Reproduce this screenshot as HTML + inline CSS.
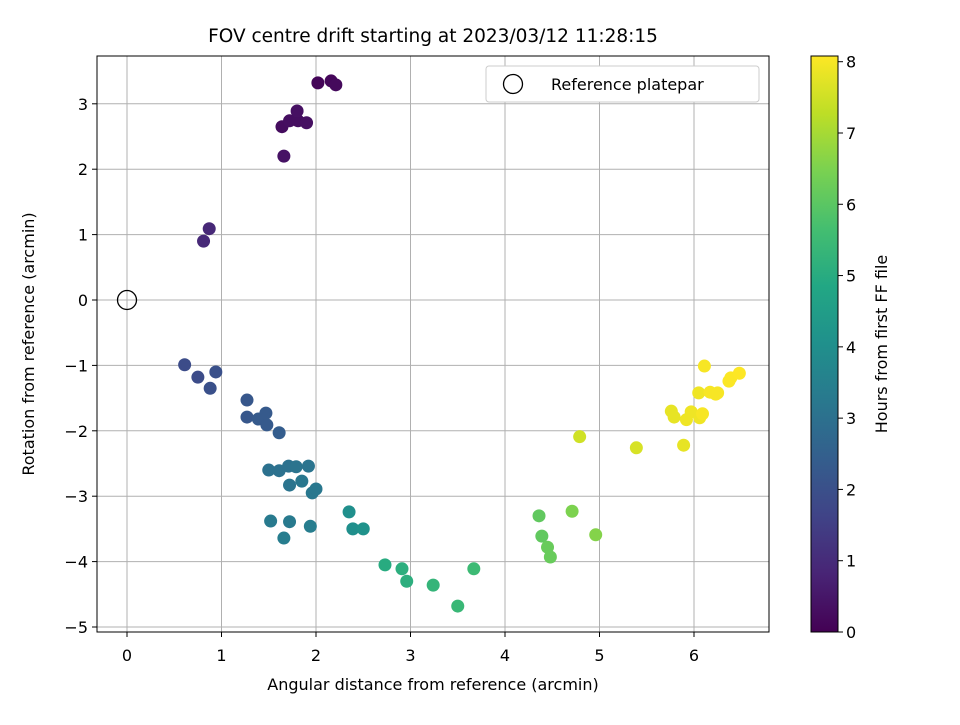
<!DOCTYPE html>
<html><head><meta charset="utf-8"><style>
body{margin:0;background:#fff;font-family:"Liberation Sans",sans-serif}
svg text{font-family:"DejaVu Sans","Liberation Sans",sans-serif;fill:#000}
</style></head><body>
<svg id="chart" width="960" height="720" xmlns="http://www.w3.org/2000/svg"></svg>
<script>
const xVals=[2.02,2.16,2.21,1.64,1.72,1.81,1.80,1.90,1.66,0.87,0.81,0.61,0.75,0.94,0.88,1.27,1.27,1.39,1.47,1.48,1.61,1.50,1.61,1.71,1.79,1.92,1.72,1.85,1.96,2.00,1.52,1.72,1.66,1.94,2.35,2.39,2.50,2.73,2.91,2.96,3.24,3.50,3.67,4.36,4.39,4.45,4.48,4.71,4.96,4.79,5.39,5.76,5.79,5.89,5.92,5.97,6.05,6.06,6.09,6.11,6.17,6.23,6.25,6.37,6.39,6.48];
const yVals=[3.32,3.35,3.29,2.65,2.74,2.74,2.89,2.71,2.20,1.09,0.90,-0.99,-1.18,-1.10,-1.35,-1.53,-1.79,-1.82,-1.73,-1.91,-2.03,-2.60,-2.61,-2.54,-2.55,-2.54,-2.83,-2.77,-2.95,-2.89,-3.38,-3.39,-3.64,-3.46,-3.24,-3.50,-3.50,-4.05,-4.11,-4.30,-4.36,-4.68,-4.11,-3.30,-3.61,-3.78,-3.93,-3.23,-3.59,-2.09,-2.26,-1.70,-1.79,-2.22,-1.83,-1.71,-1.42,-1.80,-1.74,-1.01,-1.41,-1.44,-1.42,-1.24,-1.19,-1.12];
const hours=[0.1,0.15,0.2,0.25,0.3,0.3,0.35,0.35,0.4,0.9,0.95,1.9,1.9,2.0,2.0,2.2,2.2,2.3,2.3,2.3,2.4,3.0,3.0,3.0,3.1,3.1,3.1,3.2,3.2,3.2,3.3,3.3,3.4,3.4,4.0,4.0,4.1,5.0,5.1,5.1,5.3,5.4,5.5,6.1,6.1,6.2,6.2,6.5,6.6,7.5,7.6,7.8,7.8,7.8,7.9,7.9,7.9,7.9,8.0,8.0,8.0,8.0,8.0,8.05,8.05,8.08];
const xTicks=[0,1,2,3,4,5,6];
const yTicks=[-5,-4,-3,-2,-1,0,1,2,3];
const cTicks=[0,1,2,3,4,5,6,7,8];
const NS="http://www.w3.org/2000/svg";
const svg=document.getElementById('chart');
const L=97,R=769,T=56,B=632;
const X=v=>127+v*94.5, Y=v=>300-v*65.4;
const CMIN=0,CMAX=8.08, CB=T, CBB=B, CX=811,CW=27;
const C=v=>CBB-(v-CMIN)/(CMAX-CMIN)*(CBB-CB);
const stops=[[68,1,84],[72,36,117],[64,67,135],[52,94,141],[41,120,142],[32,144,140],[34,167,132],[68,190,112],[121,209,81],[189,222,38],[253,231,37]];
function vir(t){t=Math.max(0,Math.min(1,t))*(stops.length-1);const i=Math.min(Math.floor(t),stops.length-2),f=t-i;const a=stops[i],b=stops[i+1];return `rgb(${a.map((c,k)=>Math.round(c+(b[k]-c)*f)).join(',')})`;}
function el(tag,attrs,name,inter,parent){const e=document.createElementNS(NS,tag);for(const k in attrs)e.setAttribute(k,attrs[k]);


(parent||svg).appendChild(e);return e;}
function txt(s,attrs,name){const t=el('text',attrs,name,false);t.textContent=s;return t;}
xTicks.forEach(v=>{el('line',{x1:X(v),x2:X(v),y1:T,y2:B,stroke:'#b0b0b0','stroke-width':1},'x-gridline',false);
el('line',{x1:X(v),x2:X(v),y1:B,y2:B+5,stroke:'#000'},'x-tick',false);
txt(String(v).replace('-','−'),{x:X(v),y:B+29,'font-size':16,'text-anchor':'middle'},'x-tick-label');});
yTicks.forEach(v=>{el('line',{x1:L,x2:R,y1:Y(v),y2:Y(v),stroke:'#b0b0b0','stroke-width':1},'y-gridline',false);
el('line',{x1:L-5,x2:L,y1:Y(v),y2:Y(v),stroke:'#000'},'y-tick',false);
txt(String(v).replace('-','−'),{x:L-9,y:Y(v)+6,'font-size':16,'text-anchor':'end'},'y-tick-label');});
xVals.forEach((x,i)=>{el('circle',{cx:X(x),cy:Y(yVals[i]),r:6.5,fill:vir(hours[i]/CMAX)},'data-point',true);});
el('circle',{cx:X(0),cy:Y(0),r:9.5,fill:'none',stroke:'#000','stroke-width':1.3},'reference-platepar-marker',true);
el('rect',{x:L,y:T,width:R-L,height:B-T,fill:'none',stroke:'#000','stroke-width':1},'plot-frame',false);
el('rect',{x:486,y:66,width:273,height:36,rx:3,fill:'#fff',stroke:'#ccc','stroke-width':1},'legend-box',false);
el('circle',{cx:513,cy:84,r:9.5,fill:'none',stroke:'#000','stroke-width':1.3},'legend-marker',false);
txt('Reference platepar',{x:551,y:90,'font-size':16},'legend-label');
txt('FOV centre drift starting at 2023/03/12 11:28:15',{x:433,y:42,'font-size':18.5,'text-anchor':'middle'},'chart-title');
txt('Angular distance from reference (arcmin)',{x:433,y:690,'font-size':16,'text-anchor':'middle'},'x-axis-title');
txt('Rotation from reference (arcmin)',{x:0,y:0,'font-size':16,'text-anchor':'middle',transform:'translate(34,344) rotate(-90)'},'y-axis-title');
const defs=el('defs',{},'defs',false);
const g=el('linearGradient',{id:'vg',x1:0,y1:1,x2:0,y2:0},'colorbar-gradient',false,defs);
stops.forEach((s,i)=>el('stop',{offset:i/(stops.length-1),'stop-color':`rgb(${s})`},'gradient-stop',false,g));
el('rect',{x:CX,y:CB,width:CW,height:CBB-CB,fill:'url(#vg)',stroke:'#000','stroke-width':1},'colorbar',false);
cTicks.forEach(v=>{el('line',{x1:CX+CW,x2:CX+CW+5,y1:C(v),y2:C(v),stroke:'#000'},'colorbar-tick',false);
txt(String(v),{x:CX+CW+8,y:C(v)+6,'font-size':16},'colorbar-tick-label');});
txt('Hours from first FF file',{x:0,y:0,'font-size':16,'text-anchor':'middle',transform:'translate(887,344) rotate(-90)'},'colorbar-title');
</script>
</body></html>
